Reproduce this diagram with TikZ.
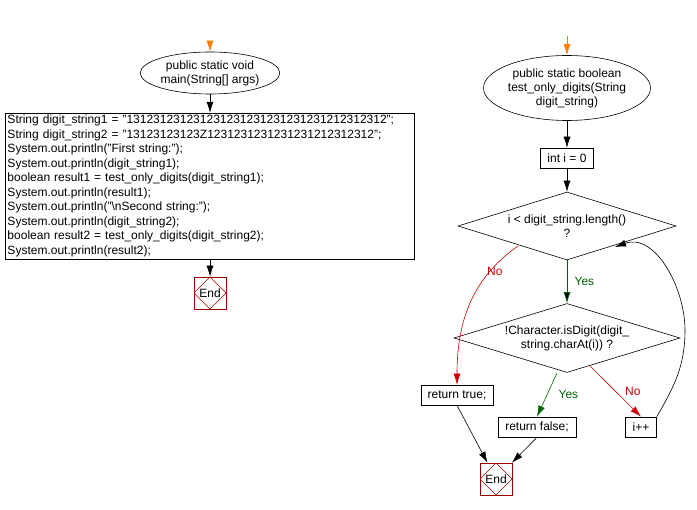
\documentclass[tikz,border=0pt]{standalone}
\usepackage{fontspec}
\setmainfont{Liberation Sans}
\usetikzlibrary{arrows.meta,shapes.geometric}

\tikzset{
  block/.style={draw,fill=white,align=left,inner sep=2pt,font=\fontsize{12}{14.5}\selectfont},
  small/.style={block,align=center,minimum height=20pt,inner sep=1pt},
  term/.style={draw,ellipse,align=center,inner sep=0pt,font=\fontsize{12}{14}\selectfont},
  cond/.style={draw,diamond,aspect=3.2,align=center,inner sep=0pt,font=\fontsize{12}{14}\selectfont},
  stop/.style={draw=red!60!black,minimum size=32pt,inner sep=0pt,font=\fontsize{12}{14}\selectfont,
    path picture={\draw[red!70!black] (path picture bounding box.north) -- (path picture bounding box.east)
      -- (path picture bounding box.south) -- (path picture bounding box.west) -- cycle;}},
  yes/.style={draw=green!40!black,text=green!40!black},
  no/.style={draw=red!80!black,text=red!80!black},
  lbl/.style={font=\fontsize{12}{14}\selectfont}
}

\begin{document}
\begin{tikzpicture}[x=1pt,y=-1pt,>={Latex[length=11pt,width=7pt]},line width=0.6pt]
  \useasboundingbox (0,0) rectangle (697,510);

  % main
  \coordinate (s1) at (210,42);
  \node[term,minimum width=130pt,minimum height=42pt] (main) at (210,73) {public static void\\main(String[] args)};
  \node[block,text width=405pt] (body) at (210,186) {String digit\_string1 = "131231231231231231231231231231212312312";\\
String digit\_string2 = "13123123123Z1231231231231231212312312";\\
System.out.println("First string:");\\
System.out.println(digit\_string1);\\
boolean result1 = test\_only\_digits(digit\_string1);\\
System.out.println(result1);\\
System.out.println("\textbackslash nSecond string:");\\
System.out.println(digit\_string2);\\
boolean result2 = test\_only\_digits(digit\_string2);\\
System.out.println(result2);};
  \node[stop] (end1) at (210,293) {End};

  \draw[->,orange] (s1) -- (main.north);
  \draw[->] (main) -- (body);
  \draw[->] (body) -- (end1);

  % test_only_digits
  \coordinate (s2) at (567,36);
  \node[term,minimum width=160pt,minimum height=65pt] (func) at (567,88) {public static boolean\\test\_only\_digits(String\\digit\_string)};
  \node[small,minimum width=53pt] (init) at (567,158) {int i = 0};
  \node[cond,minimum width=218pt,minimum height=68pt] (loop) at (567,226) {i {\textless} digit\_string.length()\\?};
  \node[cond,minimum width=226pt,minimum height=69pt] (check) at (567,338) {!Character.isDigit(digit\_\\string.charAt(i)) ?};
  \node[small,minimum width=72pt] (rtrue) at (457,395) {return true;};
  \node[small,minimum width=78pt] (rfalse) at (537,427) {return false;};
  \node[small,minimum width=31pt] (inc) at (641,427) {i++};
  \node[stop] (end2) at (496,479) {End};

  \draw[->,orange] (s2) -- (func.north);
  \draw[->] (func) -- (init);
  \draw[->] (init) -- (loop);
  \path[->,yes] (loop) edge node[lbl,right=4pt] {Yes} (check);
  \draw[->,no] (518,246) to[out=215,in=90] node[lbl,pos=0.3,above right] {No} (rtrue.north);
  \draw[->,yes] (557,373) -- node[lbl,right=8pt] {Yes} (rfalse.north);
  \draw[->,no] (590,366) -- node[lbl,right=6pt] {No} (inc.north);
  \draw[->] (inc.north east) to[out=60,in=270] (685,330) to[out=90,in=20] (615,247);
  \draw[->] (rtrue.south) -- (end2);
  \draw[->] (rfalse.south) -- (end2);
\end{tikzpicture}
\end{document}
